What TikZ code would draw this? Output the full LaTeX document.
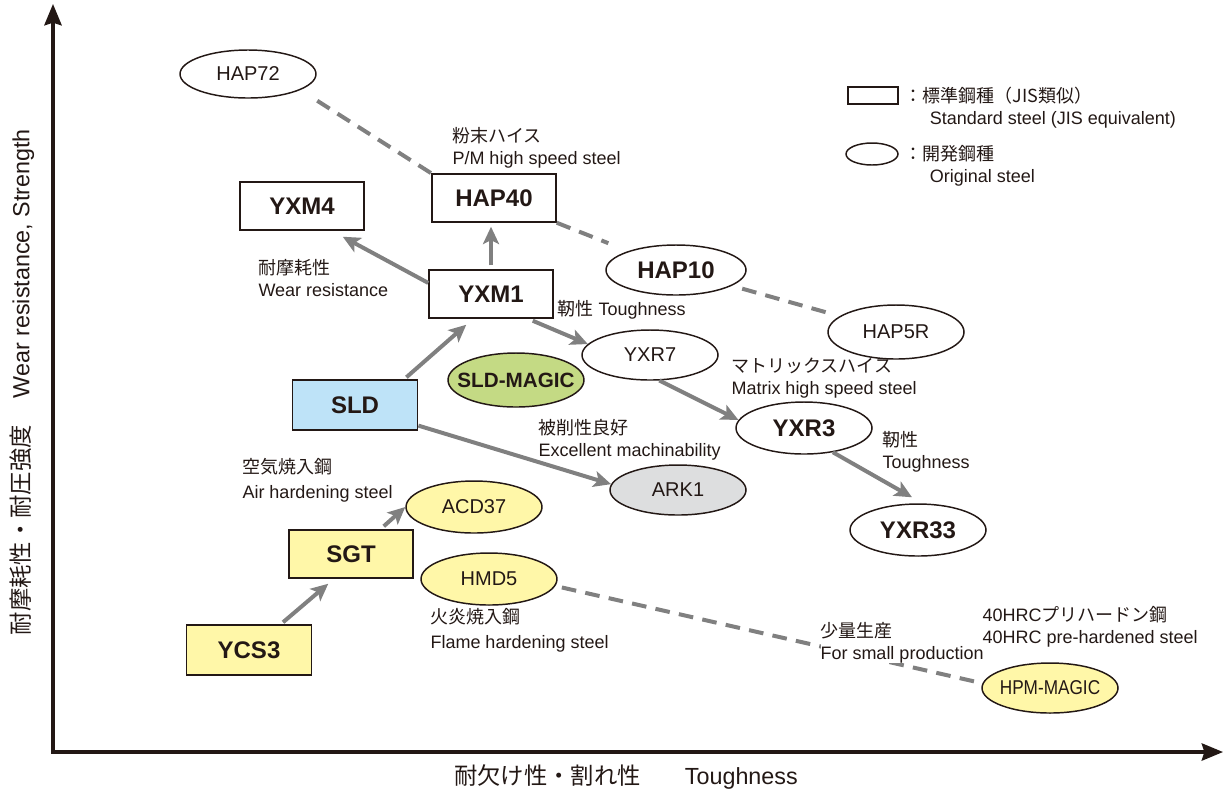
\documentclass[tikz,border=0pt]{standalone}
\usepackage{fontspec}
\setmainfont{Liberation Sans}
\newfontfamily\jp{Noto Sans CJK JP}
\newfontfamily\narrowsf[FakeStretch=0.86]{Liberation Sans}
\usetikzlibrary{shapes.geometric,arrows.meta,calc}

\definecolor{inkblack}{RGB}{35,24,21}
\definecolor{arrowgray}{RGB}{128,128,128}
\definecolor{stdyellow}{RGB}{255,247,168}
\definecolor{sldblue}{RGB}{190,227,248}
\definecolor{magicgreen}{RGB}{196,218,132}
\definecolor{arkgray}{RGB}{221,222,223}

\tikzset{every picture/.style={line width=0.75pt}}
\tikzset{
  stdbox/.style={rectangle, draw=inkblack, line width=1.1pt, fill=white, text=inkblack,
    minimum width=93pt, minimum height=36pt, inner sep=0pt},
  devell/.style={ellipse, draw=inkblack, line width=1.1pt, fill=white, text=inkblack,
    minimum width=102pt, minimum height=39pt, inner xsep=-20pt, inner ysep=-4pt},
  nametext/.style={font=\fontsize{15}{18}\selectfont},
  boldname/.style={font=\fontsize{18}{21}\selectfont\bfseries},
  note/.style={font=\fontsize{13.5}{16.5}\selectfont, text=inkblack, align=left,
    inner sep=0pt, anchor=west},
  axislabel/.style={font=\fontsize{17.5}{20}\selectfont, text=inkblack, inner sep=0pt},
  path arrow/.style={draw=arrowgray, line width=3pt,
    -{Stealth[length=13pt,width=12pt,inset=3pt]}},
  dash link/.style={draw=arrowgray, line width=3pt, dash pattern=on 11pt off 7pt},
  axisline/.style={draw=inkblack, line width=2.3pt, line join=miter,
    {Stealth[length=16pt,width=13pt,inset=2pt]}-{Stealth[length=16pt,width=13pt,inset=2pt]}}
}

\begin{document}
\begin{tikzpicture}[x=0.75pt,y=0.75pt,yscale=-1,xscale=1]
	\useasboundingbox (0,0) rectangle (1226,794);
	
	%Shape: Axis 2D
	\coordinate (origin) at (53,752);
	\coordinate (ytip) at (53,4);
	\coordinate (xtip) at (1223,752);
	\draw[axisline] (ytip) -- (origin) -- (xtip);
	
	% Axis labels
	\node[axislabel, rotate=90] (ylabel) at (22,382) {{\jp 耐摩耗性・耐圧強度}\hspace{20pt}Wear resistance, Strength};
	\node[axislabel] (xlabel) at (626,777) {{\jp 耐欠け性・割れ性}\hspace{33pt}Toughness};
	
	% Steel grades
	\node[devell, nametext, minimum height=36pt] (hap72) at (248,74) {HAP72};
	\node[stdbox, boldname] (hap40) at (494,198) {HAP40};
	\node[stdbox, boldname] (yxm4) at (302,206) {YXM4};
	\node[stdbox, boldname] (yxm1) at (491,294) {YXM1};
	\node[devell, boldname, minimum width=105pt, minimum height=37.5pt] (hap10) at (676,270) {HAP10};
	\node[devell, nametext, minimum height=40.5pt] (hap5r) at (896,332) {HAP5R};
	\node[devell, nametext, minimum height=37.5pt] (yxr7) at (650,355) {YXR7};
	\node[devell, font=\fontsize{15.5}{18}\selectfont\bfseries, fill=magicgreen, minimum height=40.5pt] (sldmagic) at (516,380) {SLD-MAGIC};
	\node[stdbox, boldname, fill=sldblue, minimum width=94pt, minimum height=37.5pt] (sld) at (355,405) {SLD};
	\node[devell, boldname] (yxr3) at (804,428) {YXR3};
	\node[devell, nametext, fill=arkgray, minimum height=37.5pt] (ark1) at (678,490) {ARK1};
	\node[devell, nametext, fill=stdyellow] (acd37) at (474,507) {ACD37};
	\node[stdbox, boldname, fill=stdyellow] (sgt) at (351,554) {SGT};
	\node[devell, nametext, fill=stdyellow] (hmd5) at (489,579) {HMD5};
	\node[devell, boldname] (yxr33) at (918,530) {YXR33};
	\node[stdbox, boldname, fill=stdyellow, minimum width=94pt, minimum height=37.5pt] (ycs3) at (249,650) {YCS3};
	\node[devell, font=\narrowsf\fontsize{15}{18}\selectfont, fill=stdyellow, minimum height=37.5pt] (hpmmagic) at (1050,688) {HPM-MAGIC};
	
	% Development lines
	\draw[path arrow] (yxm1.170) -- ($(yxm4.south east)+(-22,6)$);
	\draw[path arrow, shorten <=3pt, shorten >=3pt] (yxm1.north) -- (yxm1.north |- hap40.south);
	\draw[path arrow] ($(sld.north east)+(-12,-2)$) -- ($(yxm1.south west)+(38,6)$);
	\draw[path arrow] ($(yxm1.south east)+(-21,2)$) -- (yxr7.170);
	\draw[path arrow] (yxr7.290) -- (yxr3.173);
	\draw[path arrow] (sld.-18) -- (ark1.175);
	\draw[path arrow] (yxr3.-40) -- ($(yxr33.north)+(-6,-6)$);
	\draw[path arrow] ($(sgt.north east)+(-30,-3)$) -- (acd37.west);
	\draw[path arrow] ($(ycs3.north)+(34,-2)$) -- ($(sgt.south west)+(40,5)$);
	
	% Dashed links
	\draw[dash link, shorten <=15pt] (hap72.-17) -- (hap40.north west);
	\draw[dash link, shorten >=16pt] (hap40.south east) -- (hap10);
	\draw[dash link, shorten <=8pt, shorten >=10pt] (hap10) -- (hap5r);
	\draw[dash link, shorten <=5pt] (hmd5.-6) -- (hpmmagic.176);
	
	% Text Node
	\node[note] (pmnote) at (452,148) {{\jp 粉末ハイス}\\P/M high speed steel};
	% Text Node
	\node[note] (wearnote) at (258,278) {{\jp 耐摩耗性}\\Wear resistance};
	% Text Node
	\node[note] (toughnote) at (557,310) {{\jp 靭性} Toughness};
	% Text Node
	\node[note] (matrixnote) at (731,378) {{\jp マトリックスハイス}\\Matrix high speed steel};
	% Text Node
	\node[note] (machnote) at (538,440) {{\jp 被削性良好}\\Excellent machinability};
	% Text Node
	\node[note] (airnote) at (242,480) {{\jp 空気焼入鋼}\\[2pt]Air hardening steel};
	% Text Node
	\node[note] (tough2note) at (882,452) {{\jp 靭性}\\Toughness};
	% Text Node
	\node[note] (flamenote) at (430,630) {{\jp 火炎焼入鋼}\\[2pt]Flame hardening steel};
	% Text Node
	\node[note, fill=white] (smallnote) at (820,643) {{\jp 少量生産}\\For small production};
	% Text Node
	\node[note] (prehardnote) at (982,627) {40HRC{\jp プリハードン鋼}\\40HRC pre-hardened steel};
	
	% Legend
	\node[rectangle, draw=inkblack, line width=1.1pt, minimum width=37.5pt, minimum height=12.75pt, inner sep=0pt] (keybox) at (873,95.5) {};
	\node[note] (keystd) at (904,108) {{\jp ：標準鋼種（JIS類似）}\\\hspace*{19pt}Standard steel (JIS equivalent)};
	\node[ellipse, draw=inkblack, line width=1.1pt, minimum width=39pt, minimum height=16.5pt, inner sep=0pt] (keyell) at (872,154) {};
	\node[note] (keydev) at (904,166) {{\jp ：開発鋼種}\\\hspace*{19pt}Original steel};
	
\end{tikzpicture}
\end{document}
